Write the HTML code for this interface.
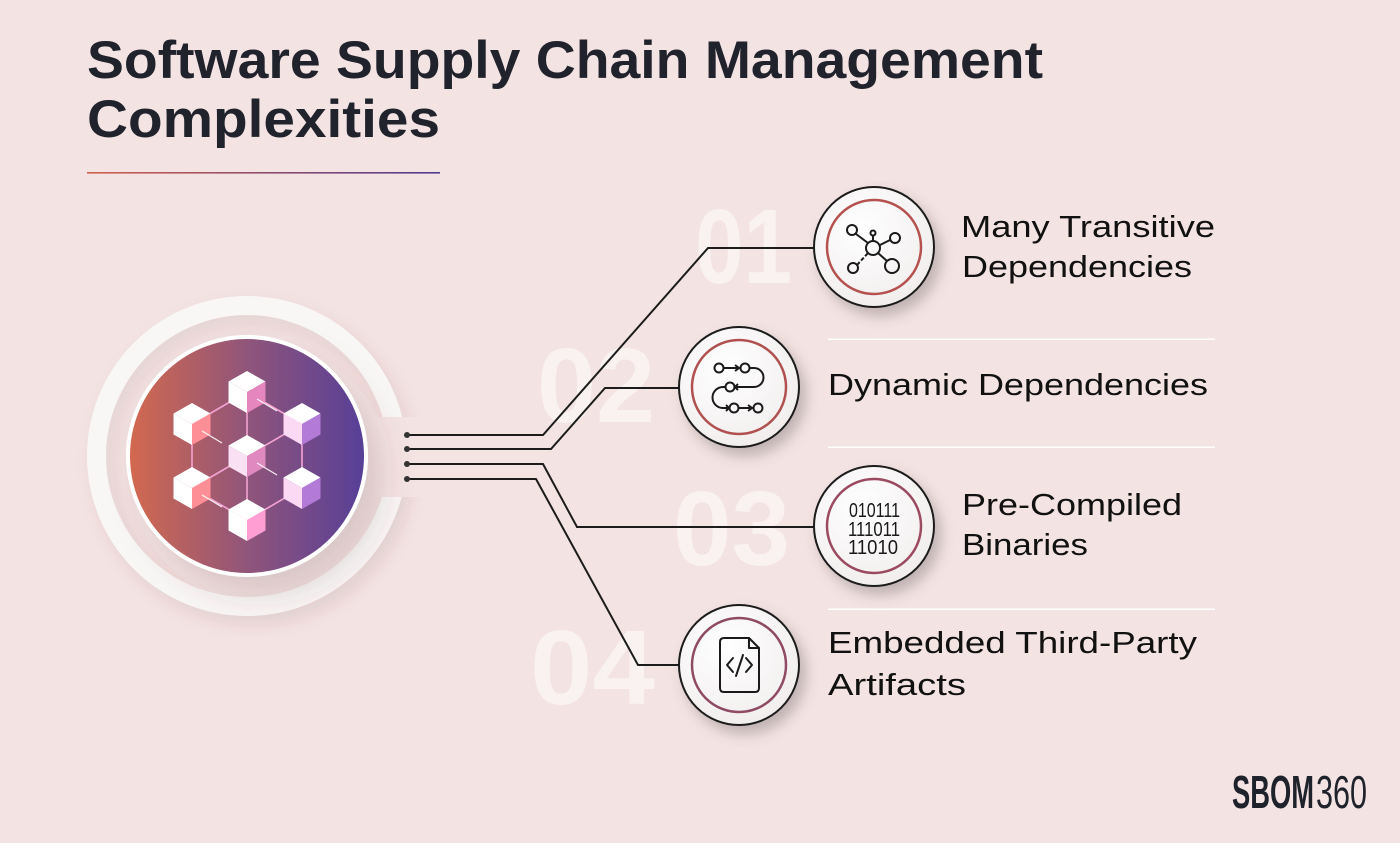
<!DOCTYPE html>
<html><head><meta charset="utf-8"><style>
html,body{margin:0;padding:0;background:#f4e3e3;}
svg{display:block;}
</style></head><body>
<svg width="1400" height="843" viewBox="0 0 1400 843" xmlns="http://www.w3.org/2000/svg">
<defs>
<linearGradient id="ul" x1="0" x2="1" y1="0" y2="0"><stop offset="0" stop-color="#d0614c"/><stop offset="1" stop-color="#4f3a90"/></linearGradient>
<linearGradient id="big" x1="0" x2="1" y1="0" y2="0"><stop offset="0" stop-color="#d2694f"/><stop offset="0.5" stop-color="#90557a"/><stop offset="1" stop-color="#573f97"/></linearGradient>
<radialGradient id="icf" cx="0.4" cy="0.35" r="0.7"><stop offset="0" stop-color="#ffffff"/><stop offset="1" stop-color="#f1eded"/></radialGradient>
<filter id="sh" x="-30%" y="-30%" width="170%" height="170%"><feDropShadow dx="6" dy="8" stdDeviation="7" flood-color="#000" flood-opacity="0.22"/></filter>
<filter id="shb" x="-40%" y="-40%" width="190%" height="190%"><feDropShadow dx="14" dy="18" stdDeviation="16" flood-color="#5a3a3a" flood-opacity="0.18"/></filter>
<filter id="shr" x="-20%" y="-20%" width="140%" height="140%"><feDropShadow dx="6" dy="8" stdDeviation="8" flood-color="#5a3a3a" flood-opacity="0.10"/></filter>
<mask id="ringmask"><rect x="0" y="0" width="1400" height="843" fill="#fff"/><rect x="372" y="417" width="60" height="80" fill="#000"/></mask>
</defs>

<!-- Title -->
<text x="87" y="78" font-family="Liberation Sans, sans-serif" font-weight="700" font-size="53" fill="#20232c" textLength="956" lengthAdjust="spacingAndGlyphs">Software Supply Chain Management</text>
<text x="87" y="137" font-family="Liberation Sans, sans-serif" font-weight="700" font-size="53" fill="#20232c" textLength="353" lengthAdjust="spacingAndGlyphs">Complexities</text>
<rect x="87" y="172" width="353" height="1.6" fill="url(#ul)"/>

<!-- Big numbers -->
<g font-family="Liberation Sans, sans-serif" font-weight="700" font-size="106" fill="#ffffff" fill-opacity="0.5">
<text x="695" y="283" textLength="97" lengthAdjust="spacingAndGlyphs">01</text>
<text x="537" y="422" textLength="118" lengthAdjust="spacingAndGlyphs">02</text>
<text x="673" y="565" textLength="117" lengthAdjust="spacingAndGlyphs">03</text>
<text x="530" y="704" textLength="125" lengthAdjust="spacingAndGlyphs">04</text>
</g>

<!-- Big left circle -->
<g mask="url(#ringmask)" filter="url(#shr)">
<circle cx="247" cy="456" r="150.5" fill="none" stroke="#f9f6f6" stroke-width="19"/>
</g>
<circle cx="247" cy="456" r="121" fill="#ffffff" filter="url(#shb)"/>
<circle cx="247" cy="456" r="117" fill="url(#big)"/>

<!-- cube network lines -->
<g stroke="#f3a3d2" stroke-width="1.6" fill="none">
<polyline points="247,392 192,424 192,488 247,520 302,488 302,424 247,392"/>
<line x1="247" y1="392" x2="247" y2="520"/>
<line x1="192" y1="488" x2="247" y2="456"/>
<line x1="302" y1="424" x2="247" y2="456"/>
</g>
<!-- cubes -->
<g>
<g transform="translate(247,392)"><path d="M0,-21 L18.5,-10.5 L0,0 L-18.5,-10.5Z" fill="#fff"/><path d="M-18.5,-10.5 L0,0 L0,21 L-18.5,10.5Z" fill="#fff"/><path d="M0,0 L18.5,-10.5 L18.5,10.5 L0,21Z" fill="#e586be"/></g>
<g transform="translate(192,424)"><path d="M0,-21 L18.5,-10.5 L0,0 L-18.5,-10.5Z" fill="#fff"/><path d="M-18.5,-10.5 L0,0 L0,21 L-18.5,10.5Z" fill="#fff"/><path d="M0,0 L18.5,-10.5 L18.5,10.5 L0,21Z" fill="#ff8f97"/></g>
<g transform="translate(302,424)"><path d="M0,-21 L18.5,-10.5 L0,0 L-18.5,-10.5Z" fill="#fff"/><path d="M-18.5,-10.5 L0,0 L0,21 L-18.5,10.5Z" fill="#fbd9f4"/><path d="M0,0 L18.5,-10.5 L18.5,10.5 L0,21Z" fill="#b47ad8"/></g>
<g transform="translate(247,456)"><path d="M0,-21 L18.5,-10.5 L0,0 L-18.5,-10.5Z" fill="#fff"/><path d="M-18.5,-10.5 L0,0 L0,21 L-18.5,10.5Z" fill="#f9e0f3"/><path d="M0,0 L18.5,-10.5 L18.5,10.5 L0,21Z" fill="#e088c0"/></g>
<g transform="translate(192,488)"><path d="M0,-21 L18.5,-10.5 L0,0 L-18.5,-10.5Z" fill="#fff"/><path d="M-18.5,-10.5 L0,0 L0,21 L-18.5,10.5Z" fill="#fff"/><path d="M0,0 L18.5,-10.5 L18.5,10.5 L0,21Z" fill="#ff8f97"/></g>
<g transform="translate(302,488)"><path d="M0,-21 L18.5,-10.5 L0,0 L-18.5,-10.5Z" fill="#fff"/><path d="M-18.5,-10.5 L0,0 L0,21 L-18.5,10.5Z" fill="#fbd9f4"/><path d="M0,0 L18.5,-10.5 L18.5,10.5 L0,21Z" fill="#b47ad8"/></g>
<g transform="translate(247,520)"><path d="M0,-21 L18.5,-10.5 L0,0 L-18.5,-10.5Z" fill="#fff"/><path d="M-18.5,-10.5 L0,0 L0,21 L-18.5,10.5Z" fill="#fff"/><path d="M0,0 L18.5,-10.5 L18.5,10.5 L0,21Z" fill="#ff9ed2"/></g>
</g>
<g stroke="#fff" stroke-width="1.2" opacity="0.9">
<line x1="202" y1="431" x2="222" y2="443"/><line x1="257" y1="399" x2="277" y2="411"/>
<line x1="257" y1="463" x2="277" y2="475"/><line x1="202" y1="495" x2="222" y2="507"/>
</g>

<!-- divider lines -->
<g fill="#ffffff">
<rect x="828" y="338.5" width="387" height="1.5"/>
<rect x="828" y="446.5" width="387" height="1.5"/>
<rect x="828" y="608.5" width="387" height="1.5"/>
</g>

<!-- connectors -->
<g stroke="#1c1c1c" stroke-width="2" fill="none" stroke-linejoin="miter">
<path d="M407,435 H543 L708,248 H815"/>
<path d="M407,449 H551 L605,388 H680"/>
<path d="M407,464 H543 L577,527 H815"/>
<path d="M407,479 H536 L638,665 H680"/>
</g>
<g fill="#333">
<circle cx="407" cy="435" r="3"/><circle cx="407" cy="449" r="3"/><circle cx="407" cy="464" r="3"/><circle cx="407" cy="479" r="3"/>
</g>

<!-- icon circles -->
<g filter="url(#sh)">
<circle cx="874" cy="247" r="60" fill="url(#icf)" stroke="#1a1a1a" stroke-width="2"/>
<circle cx="739" cy="387" r="60" fill="url(#icf)" stroke="#1a1a1a" stroke-width="2"/>
<circle cx="874" cy="526" r="60" fill="url(#icf)" stroke="#1a1a1a" stroke-width="2"/>
<circle cx="739" cy="665" r="60" fill="url(#icf)" stroke="#1a1a1a" stroke-width="2"/>
</g>
<circle cx="874" cy="247" r="47" fill="none" stroke="#b5524f" stroke-width="2.5"/>
<circle cx="739" cy="387" r="47" fill="none" stroke="#b0514f" stroke-width="2.5"/>
<circle cx="874" cy="526" r="47" fill="none" stroke="#9b4a5f" stroke-width="2.5"/>
<circle cx="739" cy="665" r="47" fill="none" stroke="#8f4a64" stroke-width="2.5"/>

<!-- icon 1: network -->
<g stroke="#1a1a1a" stroke-width="2" fill="none">
<circle cx="873" cy="248" r="7"/>
<circle cx="852" cy="230" r="5"/>
<circle cx="873" cy="233" r="2.5"/>
<circle cx="895" cy="238" r="5"/>
<circle cx="853" cy="268" r="5"/>
<circle cx="892" cy="266" r="7"/>
<line x1="856" y1="234" x2="868" y2="243"/>
<line x1="873" y1="236" x2="873" y2="241"/>
<line x1="880" y1="245" x2="890" y2="240"/>
<line x1="878" y1="253" x2="887" y2="261"/>
<line x1="857" y1="265" x2="868" y2="253" stroke-dasharray="4 2"/>
</g>

<!-- icon 2: flow -->
<g stroke="#1a1a1a" stroke-width="2" fill="none">
<circle cx="719" cy="368" r="4.5"/>
<line x1="723.5" y1="368" x2="738" y2="368"/>
<polyline points="735,365 739,368 735,371"/>
<circle cx="745" cy="368" r="4.5"/>
<path d="M749.5,368 H754 A9.5,9.5 0 0 1 754,387 H734.5"/>
<polyline points="738,384 735,387 738,390"/>
<circle cx="730" cy="387" r="4.5"/>
<path d="M725.5,387 H723 A10.5,10.5 0 0 0 723,408 H728"/>
<polyline points="726,405 729,408 726,411"/>
<circle cx="734" cy="408" r="4.5"/>
<line x1="738.5" y1="408" x2="751" y2="408"/>
<polyline points="748,405 752,408 748,411"/>
<circle cx="758" cy="408" r="4.5"/>
</g>

<!-- icon 3: binary -->
<g font-family="Liberation Sans, sans-serif" font-size="20" fill="#1a1a1a">
<text x="849" y="517" textLength="51" lengthAdjust="spacingAndGlyphs">010111</text>
<text x="848" y="536" textLength="52" lengthAdjust="spacingAndGlyphs">111011</text>
<text x="848" y="554" textLength="50" lengthAdjust="spacingAndGlyphs">11010</text>
</g>

<!-- icon 4: document -->
<g stroke="#1a1a1a" stroke-width="2" fill="none" stroke-linejoin="round" stroke-linecap="round">
<path d="M724,638 H749 L759,648 V688 Q759,692 755,692 H724 Q720,692 720,688 V642 Q720,638 724,638 Z"/>
<path d="M749,638 V648 H759"/>
<polyline points="733,658 727,665 733,672"/>
<polyline points="746,658 752,665 746,672"/>
<line x1="743" y1="655" x2="736" y2="676"/>
</g>

<!-- labels -->
<g font-family="Liberation Sans, sans-serif" font-size="31" fill="#111111">
<text x="961" y="237" textLength="254" lengthAdjust="spacingAndGlyphs">Many Transitive</text>
<text x="962" y="277" textLength="230" lengthAdjust="spacingAndGlyphs">Dependencies</text>
<text x="828" y="395" textLength="380" lengthAdjust="spacingAndGlyphs">Dynamic Dependencies</text>
<text x="962" y="515" textLength="220" lengthAdjust="spacingAndGlyphs">Pre-Compiled</text>
<text x="962" y="555" textLength="126" lengthAdjust="spacingAndGlyphs">Binaries</text>
<text x="828" y="653" textLength="369" lengthAdjust="spacingAndGlyphs">Embedded Third-Party</text>
<text x="828" y="695" textLength="138" lengthAdjust="spacingAndGlyphs">Artifacts</text>
</g>

<!-- logo -->
<text x="1232" y="808" font-family="Liberation Sans, sans-serif" font-weight="700" font-size="46" fill="#1e222b" textLength="82" lengthAdjust="spacingAndGlyphs">SBOM</text>
<text x="1316" y="808" font-family="Liberation Sans, sans-serif" font-size="46" fill="#1e222b" textLength="51" lengthAdjust="spacingAndGlyphs">360</text>
</svg>
</body></html>
